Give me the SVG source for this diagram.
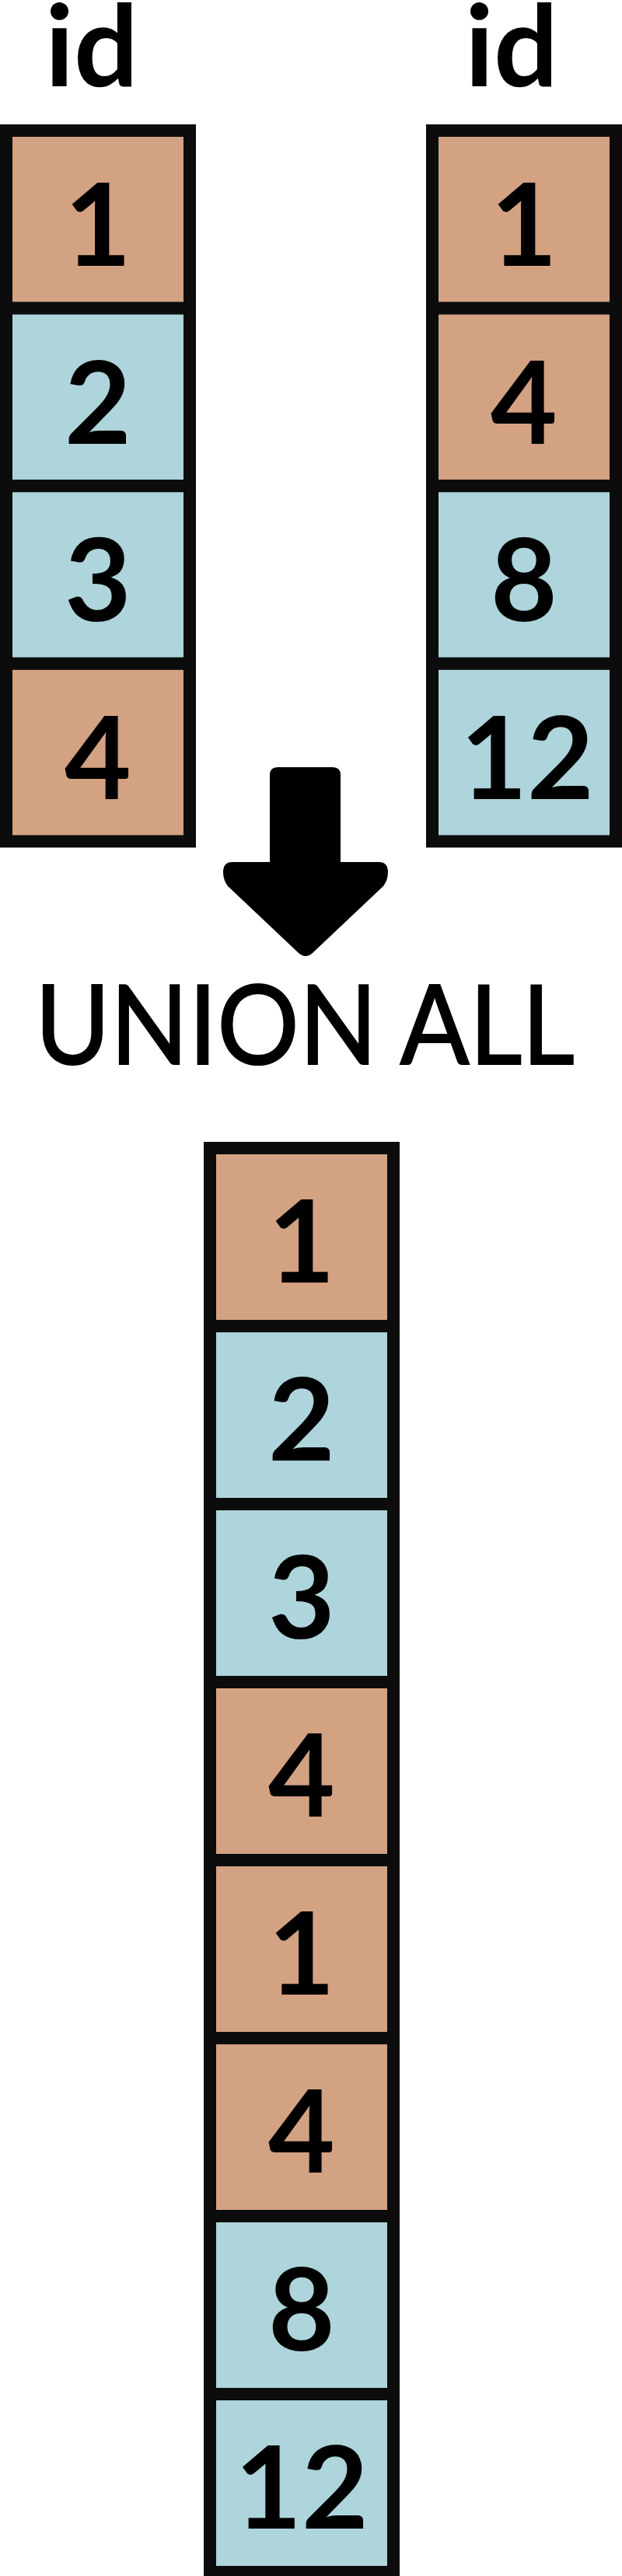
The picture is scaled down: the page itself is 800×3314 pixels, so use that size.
<svg xmlns="http://www.w3.org/2000/svg" width="800" height="3314" viewBox="0 0 800 3314">
<style>
.tan{fill:#D3A283;stroke:#0C0C0C;stroke-width:16}
.blue{fill:#ADD5DB;stroke:#0C0C0C;stroke-width:16}
.num{font-family:Lato,"Liberation Sans",sans-serif;font-weight:700;font-size:148px;fill:#000;text-anchor:middle}
.hdr{font-family:Lato,"Liberation Sans",sans-serif;font-weight:700;font-size:146px;fill:#000;text-anchor:middle}
.op{font-family:Lato,"Liberation Sans",sans-serif;font-weight:400;font-size:142px;fill:#000;stroke:#000;stroke-width:2;text-anchor:middle}
</style>
<rect width="800" height="3314" fill="#fff"/>
<g id="headers">
<text class="hdr" x="118" y="111">id</text>
<text class="hdr" x="658" y="111">id</text>
</g>
<g id="left-table">
<g id="L1"><rect class="tan" x="8" y="168" width="236" height="228.6"/><text class="num" x="126" y="342">1</text></g>
<g id="L2"><rect class="blue" x="8" y="396.6" width="236" height="228.6"/><text class="num" x="126" y="570.6">2</text></g>
<g id="L3"><rect class="blue" x="8" y="625.2" width="236" height="228.6"/><text class="num" x="126" y="799.2">3</text></g>
<g id="L4"><rect class="tan" x="8" y="853.8" width="236" height="228.6"/><text class="num" x="126" y="1027.8">4</text></g>
</g>
<g id="right-table">
<g id="R1"><rect class="tan" x="556" y="168" width="236" height="228.6"/><text class="num" x="674" y="342">1</text></g>
<g id="R2"><rect class="tan" x="556" y="396.6" width="236" height="228.6"/><text class="num" x="674" y="570.6">4</text></g>
<g id="R3"><rect class="blue" x="556" y="625.2" width="236" height="228.6"/><text class="num" x="674" y="799.2">8</text></g>
<g id="R4"><rect class="blue" x="556" y="853.8" width="236" height="228.6"/><text class="num" x="678" y="1027.8">12</text></g>
</g>
<g id="connectors">
<path d="M347 997 Q347 987 357 987 L428 987 Q438 987 438 997 L438 1109 L487 1109 Q499 1109 499 1122 Q499 1132 493 1140 L402 1226 Q393 1234 384 1226 L293 1140 Q287 1132 287 1122 Q287 1109 299 1109 L347 1109 Z" fill="#000"/>
</g>
<g id="operator">
<text class="op" x="392" y="1369" textLength="694" lengthAdjust="spacingAndGlyphs">UNION ALL</text>
</g>
<g id="result-table">
<g id="U1"><rect class="tan" x="270" y="1477" width="236" height="229"/><text class="num" x="388" y="1650">1</text></g>
<g id="U2"><rect class="blue" x="270" y="1706" width="236" height="229"/><text class="num" x="388" y="1879">2</text></g>
<g id="U3"><rect class="blue" x="270" y="1935" width="236" height="229"/><text class="num" x="388" y="2108">3</text></g>
<g id="U4"><rect class="tan" x="270" y="2164" width="236" height="229"/><text class="num" x="388" y="2337">4</text></g>
<g id="U5"><rect class="tan" x="270" y="2393" width="236" height="229"/><text class="num" x="388" y="2566">1</text></g>
<g id="U6"><rect class="tan" x="270" y="2622" width="236" height="229"/><text class="num" x="388" y="2795">4</text></g>
<g id="U7"><rect class="blue" x="270" y="2851" width="236" height="229"/><text class="num" x="388" y="3024">8</text></g>
<g id="U8"><rect class="blue" x="270" y="3080" width="236" height="229"/><text class="num" x="388" y="3253">12</text></g>
</g>
</svg>
